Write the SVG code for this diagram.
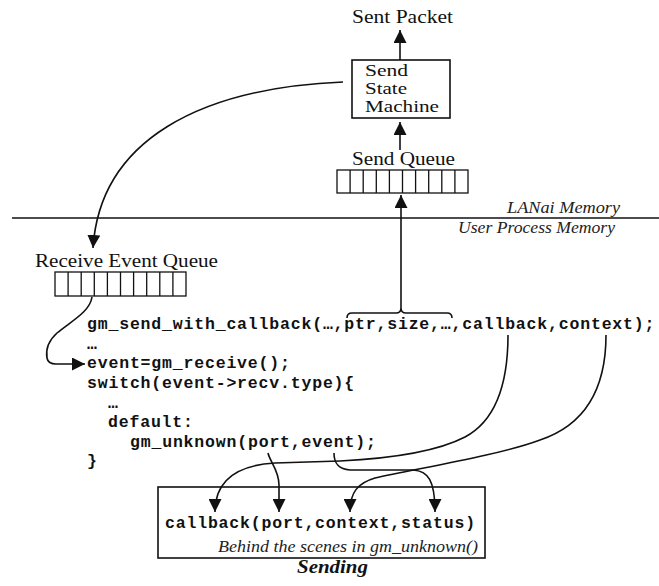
<svg xmlns="http://www.w3.org/2000/svg" width="659" height="586" viewBox="0 0 659 586">
<style>
.lbl{font-family:"Liberation Serif","Times New Roman",serif;font-size:19px;fill:#111}
.ssm{font-family:"Liberation Serif","Times New Roman",serif;font-size:16px;fill:#111}
.it{font-family:"Liberation Serif","Times New Roman",serif;font-style:italic;font-size:16px;fill:#222}
.code{font-family:"Liberation Mono","Courier New",monospace;font-weight:bold;font-size:16.5px;letter-spacing:0.82px;fill:#111}
.box{fill:#fff;stroke:#111;stroke-width:1.6}
.cell{fill:none;stroke:#111;stroke-width:1.3}
.ln{fill:none;stroke:#111;stroke-width:1.6}
.arr{fill:none;stroke:#111;stroke-width:1.6;marker-end:url(#ah)}
</style>
<defs>
<marker id="ah" markerUnits="userSpaceOnUse" markerWidth="14" markerHeight="13" refX="13" refY="6.5" orient="auto">
<path d="M0,0 L13,6.5 L0,13 z" fill="#111"/>
</marker>
</defs>
<rect width="659" height="586" fill="#fff"/>

<g id="sent-packet">
<text class="lbl" x="352" y="23" textLength="101" lengthAdjust="spacingAndGlyphs">Sent Packet</text>
</g>

<g id="send-state-machine">
<rect class="box" x="352" y="60" width="98" height="58"/>
<text class="ssm" x="365" y="76" textLength="43" lengthAdjust="spacingAndGlyphs">Send</text>
<text class="ssm" x="365" y="94" textLength="42" lengthAdjust="spacingAndGlyphs">State</text>
<text class="ssm" x="365" y="112" textLength="74" lengthAdjust="spacingAndGlyphs">Machine</text>
</g>

<g id="send-queue">
<text class="lbl" x="352" y="165" textLength="103" lengthAdjust="spacingAndGlyphs">Send Queue</text>
<rect class="cell" x="337" y="170" width="131" height="23"/>
<path class="cell" d="M350.1,170V193M363.2,170V193M376.3,170V193M389.4,170V193M402.5,170V193M415.6,170V193M428.7,170V193M441.8,170V193M454.9,170V193"/>
</g>

<g id="memory-divider">
<line class="ln" x1="12" y1="218" x2="659" y2="218" stroke-width="1.4"/>
<text class="it" x="507" y="213" textLength="113" lengthAdjust="spacingAndGlyphs">LANai Memory</text>
<text class="it" x="458" y="233" textLength="157" lengthAdjust="spacingAndGlyphs">User Process Memory</text>
</g>

<g id="receive-event-queue">
<text class="lbl" x="35" y="267" textLength="183" lengthAdjust="spacingAndGlyphs" fill="#222">Receive Event Queue</text>
<rect class="cell" x="55" y="272" width="131" height="24"/>
<path class="cell" d="M68.1,272V296M81.2,272V296M94.3,272V296M107.4,272V296M120.5,272V296M133.6,272V296M146.7,272V296M159.8,272V296M172.9,272V296"/>
</g>

<g id="code">
<text class="code" x="87" y="329">gm_send_with_callback(…,ptr,size,…,callback,context);</text>
<text class="code" x="87" y="349">…</text>
<text class="code" x="87" y="368">event=gm_receive();</text>
<text class="code" x="87" y="388">switch(event-&gt;recv.type){</text>
<text class="code" x="108" y="408">…</text>
<text class="code" x="108" y="427">default:</text>
<text class="code" x="130" y="447">gm_unknown(port,event);</text>
<text class="code" x="87" y="466">}</text>
</g>

<g id="callback-box">
<rect class="box" x="158" y="487" width="327" height="71"/>
<text class="code" x="165" y="528">callback(port,context,status)</text>
<text class="it" x="218" y="552" font-size="17" textLength="260" lengthAdjust="spacingAndGlyphs">Behind the scenes in gm_unknown()</text>
</g>

<g id="caption">
<text class="lbl" x="297" y="573" font-weight="bold" font-style="italic" textLength="71" lengthAdjust="spacingAndGlyphs">Sending</text>
</g>

<g id="connectors">
<path class="arr" d="M400,60 L400,30"/>
<path class="arr" d="M400,150 L400,122"/>
<path class="arr" d="M343,82 C200,88 100,140 93,248"/>
<path class="arr" d="M92,297 C90,312 70,322 57,333 C47,342 46,352 47,358 Q48,364 56,364 L85,364"/>
<path class="ln" d="M347,318 Q347,313 352,313 L396,313 Q401,313 401,308 Q401,313 406,313 L447,313 Q452,313 452,318"/>
<path class="arr" d="M401,308 L401,195"/>
<path class="arr" d="M508,335 C508,380 497,420 465,437 C440,450 400,458 340,461 L275,463 C240,465 215,478 215,512"/>
<path class="arr" d="M606,335 C606,390 585,425 540,440 C500,455 420,468 375,478 C358,483 350,492 350,512"/>
<path class="arr" d="M334,453 C334,462 337,469 350,470 L413,470 C428,471 435,480 435,512"/>
<path class="arr" d="M268,453 C270,462 279,470 279,485 L279,512"/>
</g>
</svg>
